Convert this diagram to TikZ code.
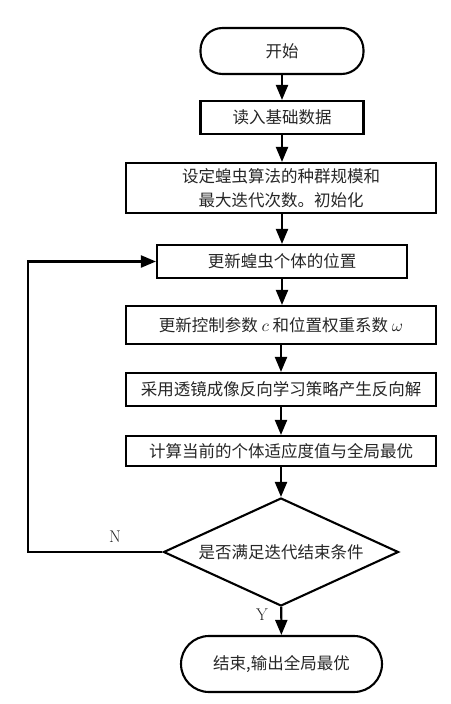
\documentclass[tikz,border=0pt]{standalone}
\usepackage{fontspec}
\newfontfamily\cjk{Noto Sans CJK SC}
\newcommand{\mymath}[1]{\scalebox{1.7}{\fontsize{10}{12}\selectfont$#1$}}
\usetikzlibrary{shapes.geometric,arrows.meta}
\begin{document}
\begin{tikzpicture}[x=1pt,y=-1pt,
  every node/.style={font=\cjk\fontsize{16.5}{23.5}\selectfont, text=black!85, align=center, inner sep=0pt},
  proc/.style={draw, line width=2.1pt, rectangle, minimum height=#1},
  term/.style={draw, line width=2.1pt, rectangle, rounded corners=22pt},
  dec/.style={draw, line width=2.1pt, diamond, aspect=2.18},
  arr/.style={line width=2.1pt, -{Triangle[length=15pt,width=12pt]}},
  lbl/.style={font=\fontsize{17}{20}\selectfont}]
\useasboundingbox (0,0) rectangle (450,704);
\node[term, minimum width=163pt, minimum height=46pt] (start) at (282,51) {开始};
\node[proc=33pt, minimum width=163pt] (read) at (282,117.5) {读入基础数据};
\node[proc=50pt, minimum width=310pt] (init) at (281,188) {设定蝗虫算法的种群规模和\\最大迭代次数。初始化};
\node[proc=33pt, minimum width=250pt] (upd) at (282,261.5) {更新蝗虫个体的位置};
\node[proc=38pt, minimum width=310pt] (ctrl) at (281,325) {更新控制参数 \mymath{c} 和位置权重系数 \mymath{\omega}};
\node[proc=33pt, minimum width=310pt] (lens) at (281,389.5) {采用透镜成像反向学习策略产生反向解};
\node[proc=30pt, minimum width=310pt] (calc) at (281,451) {计算当前的个体适应度值与全局最优};
\node[dec, minimum width=235pt, minimum height=108pt] (chk) at (281,552) {是否满足迭代结束条件};
\node[term, rounded corners=28pt, minimum width=201pt, minimum height=56pt] (end) at (281.5,664) {结束,输出全局最优};
\coordinate (lp1) at (28,552);
\coordinate (lp2) at (28,261.5);
\draw[arr] (start.south -| read.north) -- (read.north);
\draw[arr] (read.south) -- (read.south |- init.north);
\draw[arr] (init.south -| upd.north) -- (upd.north);
\draw[arr] (upd.south) -- (upd.south |- ctrl.north);
\draw[arr] (ctrl) -- (lens);
\draw[arr] (lens) -- (calc);
\draw[arr] (calc) -- (chk);
\draw[arr] (chk) -- (end);
\draw[arr] (chk.west) -- (lp1) -- (lp2) -- (upd.west);
\node[lbl] (nl) at (115,537) {N};
\node[lbl] (yl) at (262,615) {Y};
\end{tikzpicture}
\end{document}
